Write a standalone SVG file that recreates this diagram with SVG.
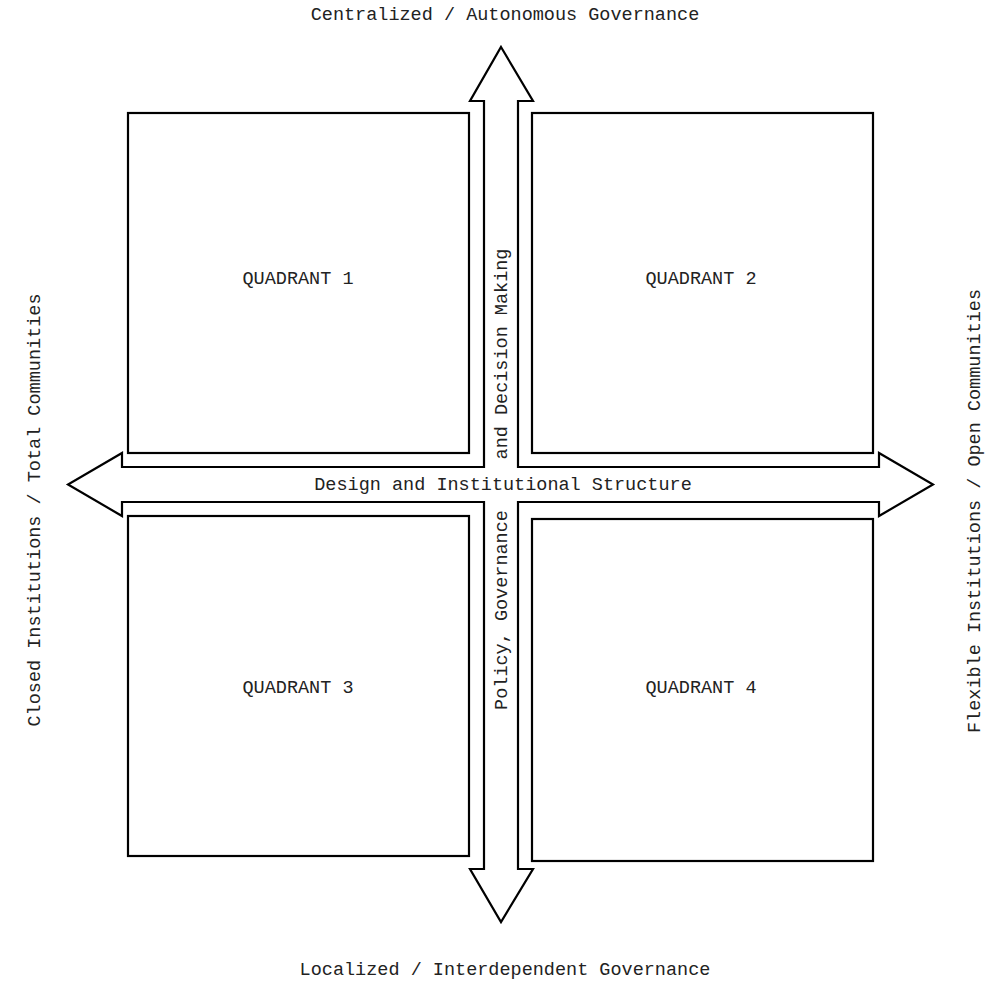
<svg xmlns="http://www.w3.org/2000/svg" width="997" height="982" viewBox="0 0 997 982">
<style>
.t{font-family:"Liberation Mono","Courier New",monospace;font-size:18.5px;fill:#222;text-anchor:middle}
.box{fill:#fff;stroke:#000;stroke-width:2.2}
.arr{fill:#fff;stroke:#000;stroke-width:2.2;stroke-linejoin:miter}
</style>
<rect width="997" height="982" fill="#fff"/>
<g id="connectors">
<polygon class="arr" points="501,47 533,101 518,101 518,467 879,467 879,453 933,484.5 879,516 879,502 518,502 518,869 533,869 501,922 470,869 484,869 484,502 122,502 122,516 68,484.5 122,453 122,467 484,467 484,101 470,101"/>
<text class="t" x="503" y="490">Design and Institutional Structure</text>
<text class="t" transform="translate(507,354) rotate(-90)">and Decision Making</text>
<text class="t" transform="translate(507,610) rotate(-90)">Policy, Governance</text>
</g>
<g id="q1"><rect class="box" x="128" y="113" width="341" height="340"/><text class="t" x="298" y="284">QUADRANT 1</text></g>
<g id="q2"><rect class="box" x="532" y="113" width="341" height="340"/><text class="t" x="701" y="284">QUADRANT 2</text></g>
<g id="q3"><rect class="box" x="128" y="516" width="341" height="340"/><text class="t" x="298" y="693">QUADRANT 3</text></g>
<g id="q4"><rect class="box" x="532" y="519" width="341" height="342"/><text class="t" x="701" y="693">QUADRANT 4</text></g>
<g id="labels">
<text class="t" x="505" y="20">Centralized / Autonomous Governance</text>
<text class="t" x="505" y="975">Localized / Interdependent Governance</text>
<text class="t" transform="translate(40,510) rotate(-90)">Closed Institutions / Total Communities</text>
<text class="t" transform="translate(980,511) rotate(-90)">Flexible Institutions / Open Communities</text>
</g>
</svg>
